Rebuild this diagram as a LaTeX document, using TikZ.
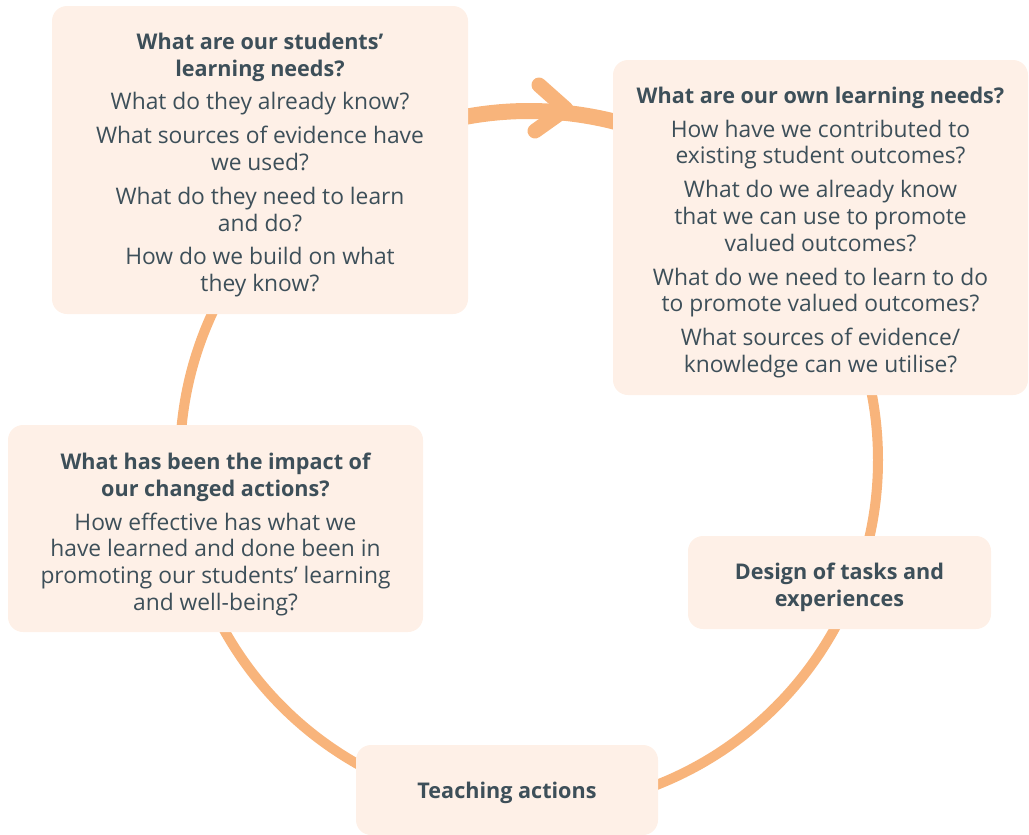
\documentclass[tikz,border=0pt]{standalone}
\usepackage{fontspec}
\setmainfont{Open Sans}
\usetikzlibrary{calc}
\definecolor{ring}{HTML}{F8B47B}
\definecolor{boxfill}{HTML}{FEF0E7}
\definecolor{txt}{HTML}{3D4F59}
\newcommand{\hd}[1]{{\fontsize{21.6}{26.8}\selectfont\bfseries #1}}
\begin{document}
\begin{tikzpicture}[x=1pt,y=-1pt,
  box/.style={fill=boxfill, rounded corners=15pt, inner sep=0pt},
  label/.style={inner sep=0pt, align=center, text=txt,
     font=\fontsize{22.8}{26.8}\selectfont},
  ringline/.style={draw=ring, line width=10pt},
  arrowline/.style={draw=ring, line width=16pt, line cap=round, line join=round}]
\useasboundingbox (0,0) rectangle (1029,835);
\coordinate (c) at (529,460);
% ring
\draw[ringline] (c) circle (349);
\draw[arrowline, line cap=butt] ($(c)+(-106:349)$) arc (-106:-70:349);
\coordinate (tip) at (566,109);
\coordinate (armA) at (539,85);
\coordinate (armB) at (535,131);
\draw[arrowline, line width=15pt] (armA) -- (tip) -- (armB);
% boxes
\node[box, minimum width=416, minimum height=308] (students) at (260,160) {};
\node[box, minimum width=415, minimum height=335] (own) at (820.5,227.5) {};
\node[box, minimum width=303, minimum height=93] (design) at (839.5,582.5) {};
\node[box, minimum width=302, minimum height=90] (teach) at (507,790) {};
\node[box, minimum width=415, minimum height=207] (impact) at (215.5,528.5) {};
% texts
\node[label] (studentsT) at (260,165) {%
  \hd{What are our students’}\\ \hd{learning needs?}\\[7pt]
  What do they already know?\\[7pt]
  What sources of evidence have\\ we used?\\[7pt]
  What do they need to learn\\ and do?\\[7pt]
  How do we build on what\\ they know?};
\node[label] (ownT) at (820.5,232.5) {%
  \hd{What are our own learning needs?}\\[7pt]
  How have we contributed to\\ existing student outcomes?\\[7pt]
  What do we already know\\ that we can use to promote\\ valued outcomes?\\[7pt]
  What do we need to learn to do\\ to promote valued outcomes?\\[7pt]
  What sources of evidence/\\ knowledge can we utilise?};
\node[label] (designT) at (839.5,587.5) {%
  \hd{Design of tasks and}\\ \hd{experiences}};
\node[label] (teachT) at (507,793) {%
  \hd{Teaching actions}};
\node[label] (impactT) at (215.5,534.5) {%
  \hd{What has been the impact of}\\ \hd{our changed actions?}\\[7pt]
  How effective has what we\\ have learned and done been in\\ promoting our students’ learning\\ and well-being?};
\end{tikzpicture}
\end{document}
